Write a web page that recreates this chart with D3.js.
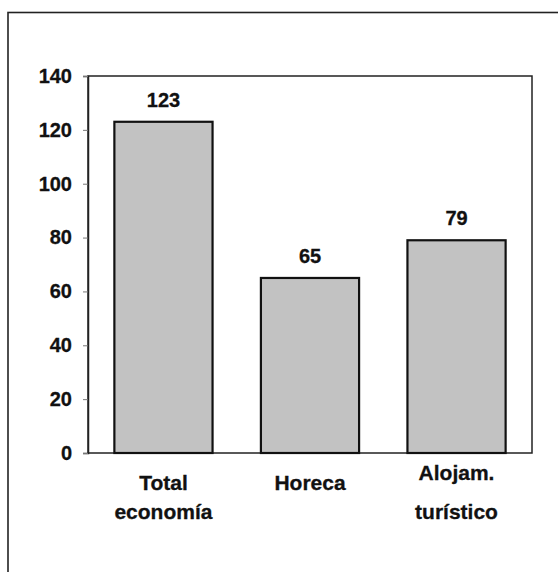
<!DOCTYPE html>
<html>
<head>
<meta charset="utf-8">
<script src="https://cdn.jsdelivr.net/npm/d3@7"></script>
<style>
  html, body { margin: 0; padding: 0; background: #fff; }
  svg { display: block; }
  text { font-family: "Liberation Sans", Arial, sans-serif; font-weight: bold; fill: #111; stroke: #111; stroke-width: 0.3px; }
</style>
</head>
<body>
<div id="graph"></div>
<script>
// data
const categories = ["Total economía", "Horeca", "Alojam. turístico"];
const values = [123, 65, 79];
const yTicks = [0, 20, 40, 60, 80, 100, 120, 140];
// category labels split over two lines
const labelLines = [["Total", "economía"], ["Horeca"], ["Alojam.", "turístico"]];

const W = 558, H = 572;
const PLOT = { l: 88, r: 532, t: 76, b: 453 };

const SVG = d3.select("#graph").append("svg")
  .attr("width", W)
  .attr("height", H);

// outer frame (cut off at right and bottom in the scan)
SVG.append("rect")
  .attr("x", 8).attr("y", 12.5)
  .attr("width", W + 20).attr("height", H + 20)
  .attr("fill", "none")
  .attr("stroke", "#222")
  .attr("stroke-width", 1.6);

const x = d3.scaleBand()
  .domain(categories)
  .range([PLOT.l, PLOT.r])
  .paddingInner(0.33)
  .paddingOuter(0.18);

const y = d3.scaleLinear()
  .domain([0, 140])
  .range([PLOT.b, PLOT.t]);

// plot area border
SVG.append("rect")
  .attr("x", PLOT.l).attr("y", PLOT.t)
  .attr("width", PLOT.r - PLOT.l).attr("height", PLOT.b - PLOT.t)
  .attr("fill", "none")
  .attr("stroke", "#222")
  .attr("stroke-width", 1.5);

// bars
SVG.selectAll("rect.bar")
  .data(values)
  .join("rect")
  .attr("class", "bar")
  .attr("x", (d, i) => x(categories[i]))
  .attr("width", x.bandwidth())
  .attr("y", (d) => y(d))
  .attr("height", (d) => y(0) - y(d))
  .attr("fill", "#c2c2c2")
  .attr("stroke", "#111")
  .attr("stroke-width", 2.2);

// value labels
SVG.selectAll("text.val")
  .data(values)
  .join("text")
  .attr("class", "val")
  .attr("x", (d, i) => x(categories[i]) + x.bandwidth() / 2)
  .attr("y", (d) => y(d) - 15)
  .attr("text-anchor", "middle")
  .style("font-size", "20px")
  .text((d) => d);

// y axis
const yas = d3.axisLeft(y).tickValues(yTicks).tickSize(5).tickPadding(11);
const yAxis = SVG.append("g")
  .attr("transform", `translate(${PLOT.l}, 0)`)
  .call(yas);
yAxis.select(".domain").attr("stroke", "#222").attr("stroke-width", 1.5);
yAxis.selectAll(".tick line").attr("stroke", "#777").attr("stroke-width", 1);
yAxis.selectAll(".tick text")
  .style("font-size", "20px")
  .style("font-family", "'Liberation Sans', Arial, sans-serif")
  .style("font-weight", "bold")
  .attr("fill", "#111");

// category labels
const baselines = [[490, 519], [490], [480, 519]];
categories.forEach((c, i) => {
  labelLines[i].forEach((line, j) => {
    SVG.append("text")
      .attr("x", x(c) + x.bandwidth() / 2)
      .attr("y", baselines[i][j])
      .attr("text-anchor", "middle")
      .style("font-size", "21px")
      .text(line);
  });
});
</script>
</body>
</html>
